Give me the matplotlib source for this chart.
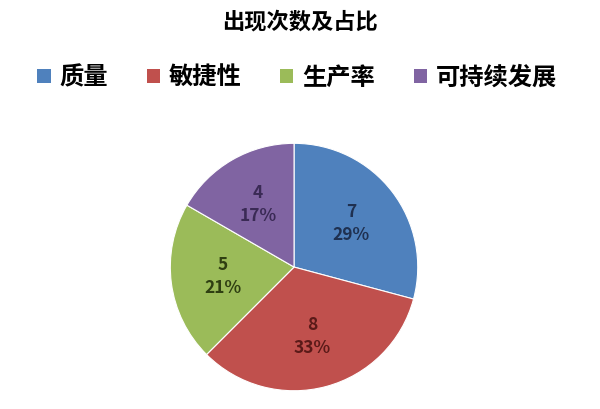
import matplotlib.pyplot as plt
from matplotlib.patches import Patch

plt.rcParams['font.family'] = ['Noto Sans CJK SC', 'DejaVu Sans']

categories = ['质量', '敏捷性', '生产率', '可持续发展']
counts = [7, 8, 5, 4]
colors = ['#4F81BD', '#C0504D', '#9BBB59', '#8064A2']
text_colors = ['#1F3050', '#5A1A18', '#2F3F12', '#3A2A55']

fig = plt.figure(figsize=(6, 4.09), dpi=100)
ax = fig.add_axes([0.2817, 0.0416, 0.4167, 0.611])

total = sum(counts)
wedges, texts, autotexts = ax.pie(
    counts, colors=colors, startangle=90, counterclock=False,
    autopct=lambda p: '{:d}\n{:.0f}%'.format(int(round(p * total / 100)), p),
    pctdistance=0.58, radius=1,
    wedgeprops=dict(edgecolor='white', linewidth=0.8),
    textprops=dict(fontsize=12.5, fontweight='bold'))
for t, c in zip(autotexts, text_colors):
    t.set_color(c)
    t.set_linespacing(1.35)
ax.set_xlim(-1.01, 1.01)
ax.set_ylim(-1.01, 1.01)
ax.set_aspect('equal')

fig.text(0.5, 0.945, '出现次数及占比', ha='center', va='center',
         fontsize=16, fontweight='bold')

handles = [Patch(facecolor=c) for c in colors]
fig.legend(handles, categories, loc='center', bbox_to_anchor=(0.495, 0.81),
           ncol=4, frameon=False, prop=dict(size=17.5, weight='bold'),
           handlelength=0.55, handleheight=0.55, handletextpad=0.35,
           columnspacing=1.6)

fig.savefig('out.png', dpi=100)
